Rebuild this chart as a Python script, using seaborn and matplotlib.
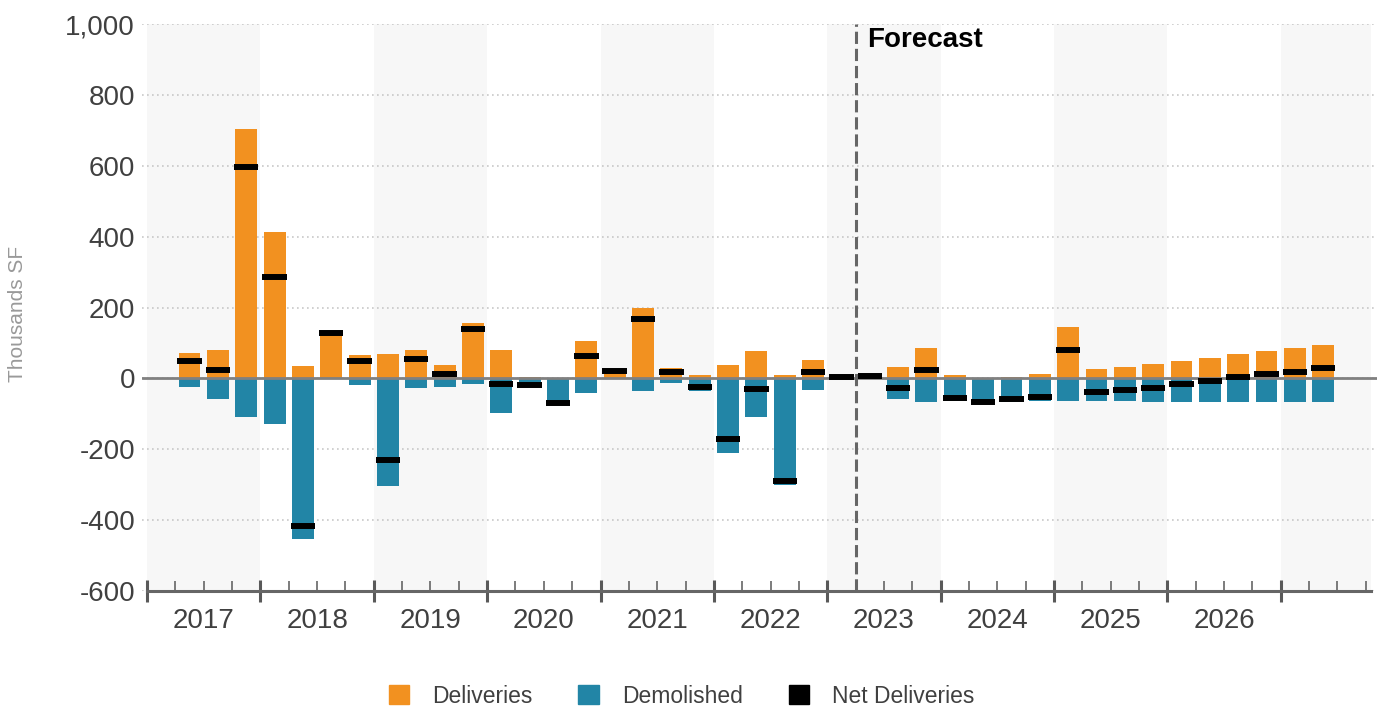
import numpy as np
import pandas as pd
import matplotlib
matplotlib.use("Agg")
import matplotlib.pyplot as plt
import matplotlib.patches as mpatches
import seaborn as sns

# quarterly data, 2017 Q1 .. 2027 Q1 (thousands SF)
quarters = [f"{y} Q{q}" for y in range(2017, 2028) for q in range(1, 5)][:41]
deliveries = [73, 81, 704, 413, 35, 127, 67, 70, 81, 38, 155, 81,
              5, 0, 105, 22, 200, 30, 9, 37, 77, 9, 52, 3,
              10, 33, 87, 9, 0, 5, 12, 144, 26, 33, 41, 48,
              58, 68, 76, 85, 93]
demolished = [-25, -58, -108, -129, -452, 0, -19, -303, -27, -25, -15, -98,
              -25, -70, -42, 0, -35, -13, -35, -210, -108, -301, -33, 0,
              -3, -58, -66, -64, -68, -66, -64, -63, -63, -65, -66, -66,
              -66, -66, -66, -66, -66]
net = [50, 23, 597, 286, -416, 127, 50, -230, 54, 12, 140, -15,
       -20, -70, 64, 21, 169, 17, -24, -172, -30, -289, 19, 3,
       7, -26, 23, -55, -68, -58, -52, 81, -38, -33, -26, -17,
       -8, 3, 12, 19, 28]
years = [str(y) for y in range(2017, 2027)]
yticks = [-600, -400, -200, 0, 200, 400, 600, 800, 1000]
ytick_labels = ["-600", "-400", "-200", "0", "200", "400", "600", "800", "1,000"]
forecast_start = "2023 Q1"

orange = "#F29120"
teal = "#2285A6"

df = pd.DataFrame({"quarter": quarters, "deliveries": deliveries,
                   "demolished": demolished, "net": net})
df["pos"] = np.arange(len(df)) + 1.5

sns.set_theme(style="white")
plt.rcParams["font.family"] = ["Liberation Sans", "DejaVu Sans"]

fig = plt.figure(figsize=(13.77, 7.09), dpi=100)
ax = fig.add_axes([0.1031, 0.1664, 0.8969, 0.7997])

xmax = 43.2
# alternating year bands
for i, start in enumerate(range(0, 44, 4)):
    if i % 2 == 0:
        ax.axvspan(start, min(start + 4, xmax), color="#F7F7F7", lw=0, zorder=0)

sns.barplot(data=df, x="pos", y="deliveries", native_scale=True, color=orange,
            saturation=1, width=0.77, errorbar=None, linewidth=0, ax=ax, zorder=2)
sns.barplot(data=df, x="pos", y="demolished", native_scale=True, color=teal,
            saturation=1, width=0.77, errorbar=None, linewidth=0, ax=ax, zorder=2)

ax.axhline(0, color="#808080", lw=2.0, zorder=3)
ax.hlines(df["net"], df["pos"] - 0.43, df["pos"] + 0.43, color="black",
          lw=4.3, zorder=4)

fx = df.index[df["quarter"] == forecast_start][0] + 1
ax.axvline(fx, color="#666666", lw=2.2, dashes=(4, 1.6), zorder=5)
ax.text(fx + 0.4, 955, "Forecast", fontsize=20, fontweight="bold",
        color="black", va="center", ha="left")

ax.set_xlim(-0.18, 43.4)
ax.set_ylim(-600, 1000)
ax.set_yticks(yticks, ytick_labels)
ax.yaxis.grid(True, color="#C8C8C8", linestyle=(0, (1, 2)), lw=1.2)
ax.xaxis.grid(False)
ax.set_axisbelow(True)

major = list(range(0, 44, 4))
minor = [q for q in range(0, 44) if q % 4 != 0]
minor_labels = [years[q // 4] if q % 4 == 2 and q // 4 < len(years) else "" for q in minor]
ax.set_xticks(major, [""] * len(major))
ax.set_xticks(minor, minor_labels, minor=True)
ax.tick_params(axis="x", which="major", direction="inout", length=16,
               width=2.2, color="#595959", bottom=True)
ax.tick_params(axis="x", which="minor", direction="in", length=7.2,
               width=1.1, color="#595959", bottom=True, pad=12,
               labelsize=20, labelcolor="#404040")
ax.tick_params(axis="y", length=0, pad=5, labelsize=20, labelcolor="#404040")

for s in ["top", "right", "left"]:
    ax.spines[s].set_visible(False)
ax.spines["bottom"].set_color("#666666")
ax.spines["bottom"].set_linewidth(2.2)
ax.spines["bottom"].set_bounds(0, xmax)

ax.set_xlabel("")
ax.set_ylabel("Thousands SF", fontsize=15, color="#999999")
ax.yaxis.set_label_coords(-0.0931, 0.4885)

handles = [mpatches.Patch(color=orange, label="Deliveries"),
           mpatches.Patch(color=teal, label="Demolished"),
           mpatches.Patch(color="black", label="Net Deliveries")]
fig.legend(handles=handles, loc="center", bbox_to_anchor=(0.495, 0.018),
           ncol=3, frameon=False, fontsize=16.5, handlelength=0.9,
           handleheight=0.9, handletextpad=1.0, columnspacing=2.0,
           labelcolor="#404040")

fig.savefig("out.png", dpi=100)
